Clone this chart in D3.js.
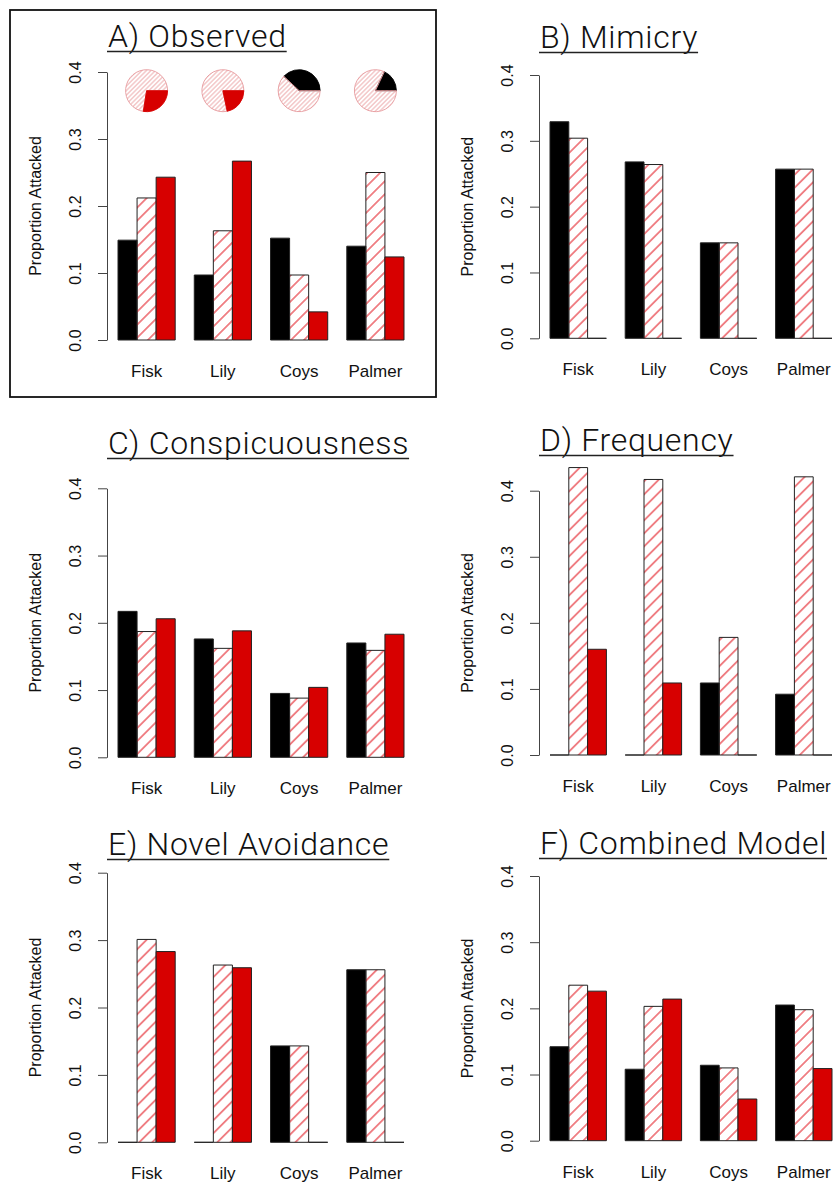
<!DOCTYPE html>
<html>
<head>
<meta charset="utf-8">
<script src="https://cdn.jsdelivr.net/npm/d3@7"></script>
<style>
  body { margin: 0; background: #fff; }
  svg { display: block; }
</style>
</head>
<body>
<div id="chart"></div>
<script>
// sites on the x axis, and the three morph series (black, hatched, red)
const sites = ["Fisk", "Lily", "Coys", "Palmer"];
const morphs = ["black", "hatched", "red"];
const yTicks = [0, 0.1, 0.2, 0.3, 0.4];

// proportion attacked, per site: [black, hatched, red]
const observed        = [[0.149, 0.212, 0.243], [0.097, 0.163, 0.267], [0.152, 0.097, 0.042], [0.140, 0.250, 0.124]];
const mimicry         = [[0.329, 0.304, 0], [0.268, 0.264, 0], [0.145, 0.145, 0], [0.257, 0.257, 0]];
const conspicuousness = [[0.217, 0.187, 0.206], [0.176, 0.162, 0.188], [0.095, 0.088, 0.104], [0.170, 0.159, 0.183]];
const frequency       = [[0, 0.435, 0.160], [0, 0.417, 0.109], [0.109, 0.178, 0], [0.092, 0.421, 0]];
const novelAvoidance  = [[0, 0.301, 0.283], [0, 0.263, 0.259], [0.143, 0.143, 0], [0.256, 0.256, 0]];
const combined        = [[0.142, 0.235, 0.226], [0.108, 0.203, 0.214], [0.114, 0.110, 0.063], [0.205, 0.198, 0.109]];

// morph frequencies at each site (pies in panel A): [black, hatched, red]
const morphFreq = [[0, 0.725, 0.275], [0, 0.783, 0.217], [0.38, 0.62, 0], [0.18, 0.82, 0]];

const panelTitles = ["A) Observed", "B) Mimicry", "C) Conspicuousness", "D) Frequency", "E) Novel Avoidance", "F) Combined Model"];
const panelData = [observed, mimicry, conspicuousness, frequency, novelAvoidance, combined];

// layout: axis x / bar range per column, zero and 0.4 pixel rows per panel
const cols = [{axis: 107, x0: 118, x1: 404}, {axis: 539, x0: 550, x1: 832}];
const rows = [
  [{zero: 340, top: 72, title: 47}, {zero: 338.3, top: 75, title: 48}],
  [{zero: 757.3, top: 488.3, title: 454}, {zero: 755, top: 490.7, title: 451}],
  [{zero: 1142.3, top: 872.7, title: 855}, {zero: 1140.7, top: 876, title: 854}]
];

const RED = "#d70000";
const HATCH = "#e4262e";
const FONT = "Liberation Sans, Arial, sans-serif";

const svg = d3.select("#chart")
  .append("svg")
  .attr("width", 833)
  .attr("height", 1184);

const defs = svg.append("defs");
defs.append("pattern")
  .attr("id", "hatch")
  .attr("patternUnits", "userSpaceOnUse")
  .attr("width", 9.2).attr("height", 10)
  .attr("patternTransform", "rotate(45)")
  .append("line")
  .attr("x1", 4.6).attr("y1", -1).attr("x2", 4.6).attr("y2", 11)
  .attr("stroke", HATCH).attr("stroke-width", 1.1);

defs.append("pattern")
  .attr("id", "hatchPie")
  .attr("patternUnits", "userSpaceOnUse")
  .attr("width", 3.2).attr("height", 10)
  .attr("patternTransform", "rotate(45)")
  .append("line")
  .attr("x1", 1.6).attr("y1", -1).attr("x2", 1.6).attr("y2", 11)
  .attr("stroke", "#eba3a6").attr("stroke-width", 0.9);

const fillFor = m => m === "black" ? "#000" : m === "red" ? RED : "url(#hatch)";

panelData.forEach((values, p) => {
  const col = cols[p % 2];
  const row = rows[Math.floor(p / 2)][p % 2];

  const x = d3.scaleBand().domain(sites).range([col.x0, col.x1]).paddingInner(0.25).paddingOuter(0);
  const xm = d3.scaleBand().domain(morphs).range([0, x.bandwidth()]);
  const y = d3.scaleLinear().domain([0, 0.4]).range([row.zero, row.top]);

  const g = svg.append("g");

  // y axis
  const ax = g.append("g")
    .attr("transform", `translate(${col.axis},0)`)
    .call(d3.axisLeft(y).tickValues(yTicks).tickFormat(d3.format(".1f")).tickSize(9).tickSizeOuter(0));
  ax.select(".domain").attr("stroke", "#444").attr("stroke-width", 1);
  ax.selectAll(".tick line").attr("stroke", "#444");
  ax.selectAll(".tick text")
    .attr("x", 0).attr("y", -26).attr("dy", 0)
    .attr("transform", "rotate(-90)")
    .style("text-anchor", "middle")
    .style("font-family", FONT)
    .style("font-size", "16px")
    .attr("fill", "#111");

  g.append("text")
    .attr("transform", `translate(${col.axis - 66},${(row.zero + row.top) / 2}) rotate(-90)`)
    .style("text-anchor", "middle")
    .style("font-family", FONT)
    .style("font-size", "16px")
    .attr("fill", "#111")
    .text("Proportion Attacked");

  // bars (path so zero-height bars still show as a line)
  const bars = [];
  values.forEach((vals, i) => vals.forEach((v, j) => bars.push({site: sites[i], morph: morphs[j], v})));
  g.selectAll(".bar")
    .data(bars)
    .enter()
    .append("path")
    .attr("d", d => {
      const x0 = x(d.site) + xm(d.morph), w = xm.bandwidth();
      const y0 = y(0), y1 = y(d.v);
      return `M${x0},${y0}V${y1}H${x0 + w}V${y0}Z`;
    })
    .attr("fill", d => fillFor(d.morph))
    .attr("stroke", "#222")
    .attr("stroke-width", 1);

  // site labels
  g.selectAll(".site")
    .data(sites)
    .enter()
    .append("text")
    .attr("x", d => x(d) + x.bandwidth() / 2)
    .attr("y", row.zero + 37)
    .style("text-anchor", "middle")
    .style("font-family", FONT)
    .style("font-size", "17px")
    .attr("fill", "#111")
    .text(d => d);

  // title, underlined
  const title = g.append("text")
    .attr("x", col.axis + 1)
    .attr("y", row.title)
    .style("font-family", "Roboto, 'Open Sans', sans-serif")
    .style("font-weight", 300)
    .style("font-size", "32px")
    .style("letter-spacing", "0.7px")
    .attr("fill", "#111")
    .text(panelTitles[p]);
  const tw = title.node().getComputedTextLength();
  g.append("line")
    .attr("x1", col.axis).attr("x2", col.axis + 1 + tw)
    .attr("y1", row.title + 4.5).attr("y2", row.title + 4.5)
    .attr("stroke", "#222").attr("stroke-width", 1.6);

  // pies of morph frequencies in panel A
  if (p === 0) {
    const pie = d3.pie().sort(null).startAngle(Math.PI / 2).endAngle(Math.PI / 2 - 2 * Math.PI);
    const arc = d3.arc().innerRadius(0).outerRadius(21);
    morphFreq.forEach((f, i) => {
      const slices = pie(f).map((s, j) => Object.assign(s, {morph: morphs[j]}));
      svg.append("g")
        .attr("transform", `translate(${x(sites[i]) + x.bandwidth() / 2},90.7)`)
        .selectAll("path")
        .data(slices.filter(s => s.value > 0))
        .enter()
        .append("path")
        .attr("d", arc)
        .attr("fill", s => s.morph === "hatched" ? "url(#hatchPie)" : s.morph === "red" ? RED : "#000")
        .attr("stroke", s => s.morph === "hatched" ? "#e69a9d" : s.morph === "red" ? RED : "#000")
        .attr("stroke-width", 0.9);
    });
  }
});

// box around panel A
svg.append("rect")
  .attr("x", 10).attr("y", 10)
  .attr("width", 426).attr("height", 387)
  .attr("fill", "none")
  .attr("stroke", "#111")
  .attr("stroke-width", 1.8);
</script>
</body>
</html>
